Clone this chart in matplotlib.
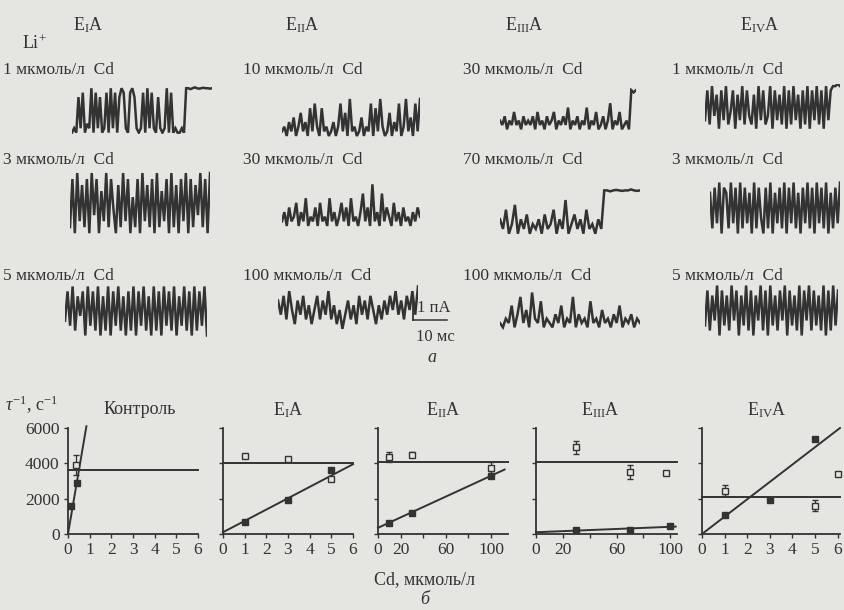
import matplotlib
matplotlib.use("Agg")
import matplotlib.pyplot as plt

plt.rcParams['font.family'] = ['Liberation Serif', 'DejaVu Serif']
plt.rcParams['mathtext.fontset'] = 'custom'
plt.rcParams['mathtext.rm'] = 'Liberation Serif'
plt.rcParams['mathtext.it'] = 'Liberation Serif:italic'

# ---------------- data: single-channel traces (relative current, 0 = closed) -------------
col_titles = ["E$_{\\mathrm{I}}$A", "E$_{\\mathrm{II}}$A", "E$_{\\mathrm{III}}$A", "E$_{\\mathrm{IV}}$A"]
row_labels = [
    ["1 мкмоль/л  Cd", "10 мкмоль/л  Cd", "30 мкмоль/л  Cd", "1 мкмоль/л  Cd"],
    ["3 мкмоль/л  Cd", "30 мкмоль/л  Cd", "70 мкмоль/л  Cd", "3 мкмоль/л  Cd"],
    ["5 мкмоль/л  Cd", "100 мкмоль/л  Cd", "100 мкмоль/л  Cd", "5 мкмоль/л  Cd"],
]
t1 = [0,1,0,8,1,9,0,2,1,10,0,9,1,8,0,1,9,0,10,1,9,0,8,10,9,1,0,9,10,8,1,0,1,9,0,10,1,9,1,0,8,1,0,1,10,0,9,0,1,0,0,1,0,10,10,9.8,10,10.2,10,9.9,10,10.1,10,10,9.9,10]
t2 = [2,3,1,4,2,5,1,3,6,2,4,1,7,2,8,3,1,7,2,3,1,2,4,1,3,8,2,6,1,9,2,3,1,2,5,1,3,2,8,1,7,2,9,3,1,2,6,1,4,2,8,1,3,9,2,5,1,8,2,9]
t3 = [3,2,4,1,3,2,5,2,3,1,4,2,3,2,4,1,5,2,3,1,4,2,3,5,1,3,2,4,2,6,1,3,2,4,1,3,2,6,1,3,2,5,1,2,4,1,3,7,1,3,2,5,1,2,3,1,10,9.5,10]
t4 = [2,9,1,10,3,8,0,9,2,10,1,4,9,0,8,2,10,1,9,3,1,8,0,10,2,9,1,3,10,0,9,2,8,1,10,0,9,1,10,2,8,0,9,1,10,0,9,2,10,1,9,0,10,2,9,10,10,10.5,10]
t5 = [1,9,0,10,2,8,1,9,0,10,3,9,0,7,2,10,1,9,4,0,8,1,10,2,9,0,6,1,9,0,10,2,8,1,9,0,10,1,7,2,9,0,10,1,8,0,9,2,10,0,9,1,8,3,10,1,9,0,10]
t6 = [2,4,1,5,2,3,6,1,4,2,7,1,3,2,5,1,6,2,3,1,7,2,4,1,3,6,2,5,1,7,2,3,1,4,8,2,5,1,10,2,4,1,8,2,5,3,1,6,2,4,1,5,2,3,1,4,2,5,3]
t7 = [4,2,6,1,3,7,1,4,2,5,1,3,2,4,1,5,2,3,6,1,4,2,8,1,3,5,2,4,1,6,2,3,1,4,2,10,10,9.8,10,10.1,10,9.9,10,10,10.2,10,9.9,10]
t8 = [8,1,9,2,10,0,9,8,1,10,2,9,0,10,1,9,2,8,0,10,1,9,3,0,9,1,10,0,8,2,9,1,10,0,9,2,10,1,8,0,9,2,10,1,9,0,10,2,9,1,10,0,8,1,9,2,10]
t9 = [3,9,2,10,1,8,4,9,0,10,2,9,1,10,0,8,1,10,0,9,2,10,1,8,0,9,1,10,0,9,2,10,1,8,0,10,1,9,0,10,2,9,1,10,0,8,2,10,1,9,0,10,1,9,2,10,0]
t10 = [7,4,8,3,9,5,2,7,4,8,3,6,2,5,8,3,7,4,9,3,6,2,5,1,4,7,3,6,2,8,4,7,3,8,5,2,6,3,7,4,8,5,9,4,7,3,8,5,9,4,10]
t11 = [2,1,3,2,6,1,4,8,2,5,1,9,3,2,7,1,3,2,1,4,2,6,1,3,2,8,1,4,2,3,1,7,2,3,1,5,2,3,1,4,2,6,1,3,2,4,1,3,2]
t12 = [2,9,1,8,3,10,0,9,2,8,1,10,3,9,0,8,2,10,1,9,0,8,3,10,1,9,0,10,2,8,1,9,3,10,0,9,2,8,1,10,0,9,3,10,1,9,2,8,1,10,0,9,1,10,2,9]
traces = [[t1, t2, t3, t4], [t5, t6, t7, t8], [t9, t10, t11, t12]]

# ---------------- data: tau^-1 vs Cd ----------------
panel_titles = ["Контроль", "E$_{\\mathrm{I}}$A", "E$_{\\mathrm{II}}$A", "E$_{\\mathrm{III}}$A", "E$_{\\mathrm{IV}}$A"]
ctrl_fill_x = [0.12, 0.42]
ctrl_fill_y = [1600, 2900]
ctrl_open_x = [0.37]
ctrl_open_y = [3900]
ctrl_open_err = [550]
ctrl_fit_x = [0.0, 0.85]
ctrl_fit_y = [0, 6100]
ctrl_level = 3600

e1_fill_x = [1, 3, 5]
e1_fill_y = [700, 1950, 3600]
e1_open_x = [1, 3, 5]
e1_open_y = [4400, 4250, 3100]
e1_fit_x = [0, 6]
e1_fit_y = [100, 3950]
e1_level = 4000

e2_fill_x = [10, 30, 100]
e2_fill_y = [650, 1200, 3300]
e2_open_x = [10, 30, 100]
e2_open_y = [4350, 4500, 3750]
e2_open_err = [300, 150, 300]
e2_fit_x = [0, 112]
e2_fit_y = [350, 3650]
e2_level = 4100

e3_fill_x = [30, 70, 100]
e3_fill_y = [200, 250, 450]
e3_open_x = [30, 70, 97]
e3_open_y = [4900, 3500, 3450]
e3_open_err = [350, 400, 0]
e3_fit_x = [0, 104]
e3_fit_y = [100, 420]
e3_level = 4050

e4_fill_x = [1, 3, 5]
e4_fill_y = [1050, 1950, 5400]
e4_open_x = [1, 5, 6]
e4_open_y = [2450, 1600, 3400]
e4_open_err = [300, 300, 0]
e4_fit_x = [0, 6.1]
e4_fit_y = [0, 6000]
e4_level = 2100

y_ticks = [0, 2000, 4000, 6000]
y_ticklabels = ["0", "2000", "4000", "6000"]

# ---------------- figure ----------------
W, H = 845, 610
bg = '#e5e5e2'
ink = '#333333'
fig = plt.figure(figsize=(W / 100, H / 100), dpi=100, facecolor=bg)


def box(x0, x1, y0, y1):
    return fig.add_axes([x0 / W, 1 - y1 / H, (x1 - x0) / W, (y1 - y0) / H])


def ftext(x, y, s, **kw):
    kw.setdefault('color', ink)
    kw.setdefault('fontsize', 12.5)
    fig.text(x / W, 1 - y / H, s, **kw)


# column titles
for x, s in zip([88, 302, 524, 760], col_titles):
    ftext(x, 25, s, ha='center', va='center', fontsize=13)
ftext(22, 44, "Li$^{+}$", ha='left', va='center', fontsize=13)

label_x = [3, 243, 463, 672]
label_y = [70, 160, 276]
trace_boxes = [
    [(72, 212, 86, 134), (282, 420, 92, 142), (500, 636, 88, 135), (705, 840, 84, 130)],
    [(70, 210, 170, 235), (282, 420, 182, 232), (500, 640, 188, 240), (710, 840, 180, 235)],
    [(65, 207, 284, 337), (278, 418, 284, 335), (500, 640, 286, 333), (705, 838, 283, 337)],
]
for r in range(3):
    for c in range(4):
        ftext(label_x[c], label_y[r], row_labels[r][c], ha='left', va='center')
        ax = box(*trace_boxes[r][c])
        t = traces[r][c]
        ax.plot(range(len(t)), t, color=ink, lw=1.8, solid_joinstyle='miter')
        ax.set_xlim(0, len(t) - 1)
        ax.set_ylim(-0.3, 10.5)
        ax.axis('off')

# scale bar
sb = box(405, 455, 296, 326)
sb.set_xlim(0, 50)
sb.set_ylim(30, 0)
sb.plot([8, 8], [6, 24], color=ink, lw=1.3)
sb.plot([8, 42], [24, 24], color=ink, lw=1.1)
sb.axis('off')
ftext(417, 308, "1 пА", ha='left', va='center', fontsize=12)
ftext(416, 337, "10 мс", ha='left', va='center', fontsize=12)
ftext(432, 357, "а", ha='center', va='center', fontsize=13, style='italic')

# ---------------- bottom panels ----------------
ftext(5, 405, "$\\tau^{-1}$, с$^{-1}$", ha='left', va='center', fontsize=13)

panels = [
    dict(box=(68, 198), xlim=(0, 6), xt=[0, 1, 2, 3, 4, 5, 6], xl=list("0123456"),
         fx=ctrl_fill_x, fy=ctrl_fill_y, ox=ctrl_open_x, oy=ctrl_open_y, oe=ctrl_open_err,
         fitx=ctrl_fit_x, fity=ctrl_fit_y, lev=ctrl_level, title_x=140),
    dict(box=(223, 353), xlim=(0, 6), xt=[0, 1, 2, 3, 4, 5, 6], xl=list("0123456"),
         fx=e1_fill_x, fy=e1_fill_y, ox=e1_open_x, oy=e1_open_y, oe=[0, 0, 0],
         fitx=e1_fit_x, fity=e1_fit_y, lev=e1_level, title_x=288),
    dict(box=(378, 508), xlim=(0, 115), xt=[0, 20, 40, 60, 80, 100], xl=["0", "20", "", "60", "", "100"],
         fx=e2_fill_x, fy=e2_fill_y, ox=e2_open_x, oy=e2_open_y, oe=e2_open_err,
         fitx=e2_fit_x, fity=e2_fit_y, lev=e2_level, title_x=443),
    dict(box=(536, 677), xlim=(0, 105), xt=[0, 20, 40, 60, 80, 100], xl=["0", "20", "", "60", "", "100"],
         fx=e3_fill_x, fy=e3_fill_y, ox=e3_open_x, oy=e3_open_y, oe=e3_open_err,
         fitx=e3_fit_x, fity=e3_fit_y, lev=e3_level, title_x=600),
    dict(box=(702, 840), xlim=(0, 6.1), xt=[0, 1, 2, 3, 4, 5, 6], xl=list("0123456"),
         fx=e4_fill_x, fy=e4_fill_y, ox=e4_open_x, oy=e4_open_y, oe=e4_open_err,
         fitx=e4_fit_x, fity=e4_fit_y, lev=e4_level, title_x=767),
]

for i, p in enumerate(panels):
    x0, x1 = p['box']
    ax = box(x0, x1, 428, 534)
    ax.set_facecolor('none')
    ax.set_xlim(*p['xlim'])
    ax.set_ylim(0, 6000)
    for s in ['top', 'right']:
        ax.spines[s].set_visible(False)
    for s in ['left', 'bottom']:
        ax.spines[s].set_color(ink)
        ax.spines[s].set_linewidth(1.3)
    ax.set_xticks(p['xt'])
    ax.set_xticklabels(p['xl'])
    ax.set_yticks(y_ticks)
    if i == 0:
        ax.set_yticklabels(y_ticklabels)
    else:
        ax.set_yticklabels([])
    ax.tick_params(colors=ink, labelsize=12.5, length=3, width=1.0, pad=3)
    ax.axhline(p['lev'], color=ink, lw=1.4, clip_on=False)
    ax.plot(p['fitx'], p['fity'], color=ink, lw=1.4, clip_on=False)
    ax.errorbar(p['ox'], p['oy'], yerr=p['oe'], fmt='s', ms=5, mfc=bg, mec=ink,
                mew=1.0, ecolor=ink, elinewidth=0.9, capsize=2, clip_on=False, zorder=4)
    ax.plot(p['fx'], p['fy'], 's', ms=5, color=ink, clip_on=False, zorder=5)
    ftext(p['title_x'], 410, panel_titles[i], ha='center', va='center', fontsize=13)

ftext(425, 580, "Cd, мкмоль/л", ha='center', va='center', fontsize=13)
ftext(425, 600, "б", ha='center', va='center', fontsize=13, style='italic')

fig.savefig("out.png", dpi=100, facecolor=bg)
